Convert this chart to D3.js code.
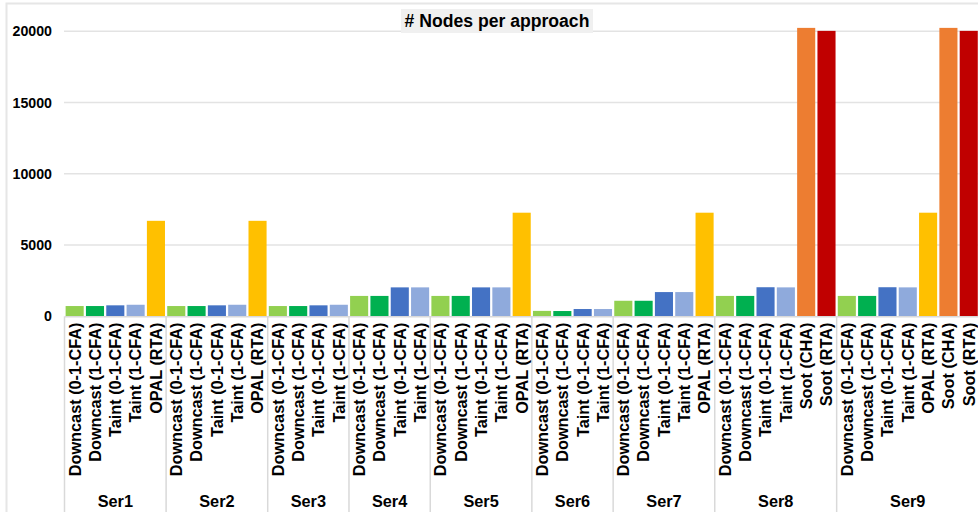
<!DOCTYPE html>
<html>
<head>
<meta charset="utf-8">
<script src="https://cdn.jsdelivr.net/npm/d3@7"></script>
<style>
  html, body { margin: 0; padding: 0; background: #fff; }
  svg { display: block; font-family: "Liberation Sans", Arial, Helvetica, sans-serif; }
</style>
</head>
<body>
<svg id="chart" width="978" height="512"></svg>
<script>
// Groups along the x axis
const groups = ["Ser1", "Ser2", "Ser3", "Ser4", "Ser5", "Ser6", "Ser7", "Ser8", "Ser9"];

// Approaches (bar categories), in drawing order inside each group
const approaches = ["Downcast (0-1-CFA)", "Downcast (1-CFA)", "Taint (0-1-CFA)", "Taint (1-CFA)", "OPAL (RTA)", "Soot (CHA)", "Soot (RTA)"];
const approachColors = ["#92D050", "#00B050", "#4472C4", "#8FAADC", "#FFC000", "#ED7D31", "#C00000"];

// Node counts per approach, one entry per group (null = approach not run)
const downcast01 = [720, 720, 720, 1430, 1430, 380, 1090, 1430, 1430];
const downcast1  = [720, 720, 720, 1430, 1430, 370, 1090, 1430, 1430];
const taint01    = [770, 770, 770, 2030, 2030, 510, 1700, 2040, 2040];
const taint1     = [810, 810, 810, 2030, 2030, 510, 1700, 2030, 2030];
const opalRta    = [6700, 6700, null, null, 7270, null, 7270, null, 7270];
const sootCha    = [null, null, null, null, null, null, null, 20240, 20240];
const sootRta    = [null, null, null, null, null, null, null, 20030, 20030];

const yTicks = [0, 5000, 10000, 15000, 20000];
const title = "# Nodes per approach";

const series = [downcast01, downcast1, taint01, taint1, opalRta, sootCha, sootRta];

// Flatten into one bar per (group, approach) that has a value
const bars = [];
groups.forEach((g, gi) => {
  series.forEach((vals, ai) => {
    if (vals[gi] != null) {
      bars.push({ key: g + "|" + ai, group: g, approach: approaches[ai], color: approachColors[ai], value: vals[gi] });
    }
  });
});

const svg = d3.select("#chart");
const left = 64.5, right = 978.9, y0px = 316.3, yTopPx = 31.3;

const x = d3.scaleBand()
  .domain(bars.map(d => d.key))
  .range([left, right])
  .paddingInner(0.11)
  .paddingOuter(0.055);

const y = d3.scaleLinear().domain([0, 20000]).range([y0px, yTopPx]);

// Outer frame
svg.append("rect")
  .attr("x", 6.5).attr("y", 3.5)
  .attr("width", 1000).attr("height", 600)
  .attr("fill", "none").attr("stroke", "#e6e6e6").attr("stroke-width", 2);

// Gridlines
svg.append("g").selectAll("line").data(yTicks.filter(t => t > 0)).join("line")
  .attr("x1", 64).attr("x2", 978)
  .attr("y1", d => y(d)).attr("y2", d => y(d))
  .attr("stroke", "#e3e3e3").attr("stroke-width", 1.5);

// Y axis labels
const yAxis = d3.axisLeft(y).tickValues(yTicks).tickSize(0).tickPadding(0).tickFormat(d3.format("d"));
const yg = svg.append("g").attr("transform", "translate(52,0)").call(yAxis);
yg.select(".domain").remove();
yg.selectAll("text")
  .attr("font-size", 14.2).attr("font-weight", "bold").attr("fill", "#000")
  .attr("font-family", "Liberation Sans, Arial, sans-serif");

// Bars
svg.append("g").selectAll("rect").data(bars).join("rect")
  .attr("x", d => x(d.key))
  .attr("width", x.bandwidth())
  .attr("y", d => y(d.value))
  .attr("height", d => y(0) - y(d.value))
  .attr("fill", d => d.color);

// Category axis line
svg.append("line")
  .attr("x1", 65).attr("x2", 978)
  .attr("y1", y0px + 0.5).attr("y2", y0px + 0.5)
  .attr("stroke", "#d9d9d9").attr("stroke-width", 1.5);

// Group boundaries
const groupSpans = groups.map(g => {
  const keys = bars.filter(b => b.group === g).map(b => b.key);
  const step = x.step();
  const start = x(keys[0]) - step * x.paddingInner() / 2;
  const end = x(keys[keys.length - 1]) + x.bandwidth() + step * x.paddingInner() / 2;
  return { group: g, start, end };
});
const bounds = [groupSpans[0].start].concat(groupSpans.map(s => s.end));
svg.append("g").selectAll("line").data(bounds).join("line")
  .attr("x1", d => d).attr("x2", d => d)
  .attr("y1", y0px).attr("y2", 512)
  .attr("stroke", "#d9d9d9").attr("stroke-width", 1.5);

// Rotated approach labels
svg.append("g").selectAll("text").data(bars).join("text")
  .attr("transform", d => `translate(${x(d.key) + x.bandwidth() / 2},322.5) rotate(-90)`)
  .attr("text-anchor", "end")
  .attr("dy", "0.36em")
  .attr("font-size", 16.3).attr("font-weight", "bold").attr("fill", "#000")
  .text(d => d.approach);

// Group labels
svg.append("g").selectAll("text").data(groupSpans).join("text")
  .attr("x", d => (d.start + d.end) / 2)
  .attr("y", 507)
  .attr("text-anchor", "middle")
  .attr("font-size", 16.3).attr("font-weight", "bold").attr("fill", "#000")
  .text(d => d.group);

// Title with shaded background
const tg = svg.append("g");
tg.append("rect").attr("x", 401).attr("y", 9).attr("width", 192).attr("height", 24).attr("fill", "#f0f0f0");
tg.append("text")
  .attr("x", 497).attr("y", 27)
  .attr("text-anchor", "middle")
  .attr("font-size", 17.6).attr("font-weight", "bold").attr("fill", "#000")
  .text(title);
</script>
</body>
</html>
